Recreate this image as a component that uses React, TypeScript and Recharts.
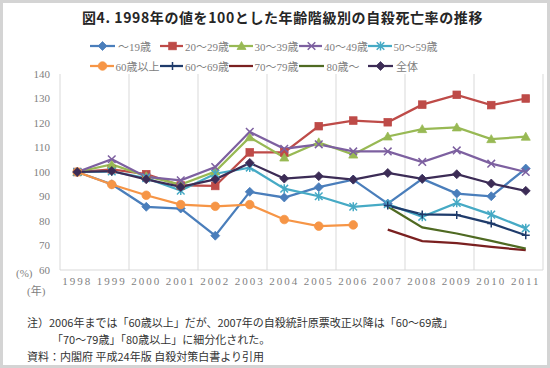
import { LineChart, Line, XAxis, YAxis, CartesianGrid, Legend } from 'recharts'

const years = [1998, 1999, 2000, 2001, 2002, 2003, 2004, 2005, 2006, 2007, 2008, 2009, 2010, 2011]
const yTicks = [60, 70, 80, 90, 100, 110, 120, 130, 140]
const gridTicks = [1997.5, 1998.5, 1999.5, 2000.5, 2001.5, 2002.5, 2003.5, 2004.5, 2005.5, 2006.5, 2007.5, 2008.5, 2009.5, 2010.5, 2011.5]

const under19 = [100, 95, 85.8, 85.1, 74.0, 91.9, 89.6, 93.8, 96.9, 87.1, 97.2, 91.2, 90.1, 101.4]
const age20s = [100, 101.1, 99.1, 94.5, 94.3, 108.0, 108.0, 118.7, 121.0, 120.3, 127.5, 131.5, 127.3, 130.0]
const age30s = [100, 103.1, 98.3, 94.9, 100.2, 114.2, 105.9, 112.1, 107.1, 114.5, 117.5, 118.2, 113.4, 114.4]
const age40s = [100, 105.2, 98.0, 96.6, 102.0, 116.4, 109.5, 111.3, 108.4, 108.4, 104.1, 108.8, 103.4, 100.0]
const age50s = [100, 100.2, 97.5, 92.4, 99.3, 101.8, 93.2, 90.1, 85.8, 86.9, 81.7, 87.4, 82.6, 77.0]
const over60 = [100, 94.9, 90.5, 86.7, 86.0, 86.7, 80.6, 77.9, 78.4, null, null, null, null, null]
const age60s = [null, null, null, null, null, null, null, null, null, 86.3, 82.7, 82.5, 79.0, 74.2]
const age70s = [null, null, null, null, null, null, null, null, null, 76.5, 71.8, 71.0, 69.4, 68.1]
const over80 = [null, null, null, null, null, null, null, null, null, 85.9, 77.4, 74.9, 71.9, 68.7]
const total = [100, 100.4, 97.0, 93.9, 97.0, 103.7, 97.3, 98.3, 96.9, 99.6, 97.2, 99.1, 95.3, 92.3]

const series = [
  { key: 'under19', name: '～19歳', color: '#4A7EBB', shape: 'diamond', values: under19 },
  { key: 'age20s', name: '20～29歳', color: '#BE4B48', shape: 'square', values: age20s },
  { key: 'age30s', name: '30～39歳', color: '#98B954', shape: 'triangle', values: age30s },
  { key: 'age40s', name: '40～49歳', color: '#7D60A0', shape: 'cross', values: age40s },
  { key: 'age50s', name: '50～59歳', color: '#46AAC5', shape: 'star', values: age50s },
  { key: 'over60', name: '60歳以上', color: '#F69546', shape: 'circle', values: over60 },
  { key: 'age60s', name: '60～69歳', color: '#1F3B6B', shape: 'plus', values: age60s },
  { key: 'age70s', name: '70～79歳', color: '#7A2020', shape: 'none', values: age70s },
  { key: 'over80', name: '80歳～', color: '#4F6A22', shape: 'none', values: over80 },
  { key: 'total', name: '全体', color: '#3C2C56', shape: 'diamond', values: total },
]

const data = years.map((year, i) => {
  const row: Record<string, number | null> = { year }
  series.forEach((s) => {
    row[s.key] = s.values[i]
  })
  return row
})

const serif = '"Liberation Serif", "Noto Sans CJK JP", serif'
const gothic = '"Noto Sans CJK JP", sans-serif'

function Marker({ cx, cy, shape, color }: { cx: number; cy: number; shape: string; color: string }) {
  if (cx == null || cy == null || isNaN(cx) || isNaN(cy)) return <g />
  switch (shape) {
    case 'diamond':
      return <path d={`M${cx},${cy - 4.5}L${cx + 4.5},${cy}L${cx},${cy + 4.5}L${cx - 4.5},${cy}Z`} fill={color} stroke={color} strokeWidth={0.75} />
    case 'square':
      return <rect x={cx - 3.8} y={cy - 3.8} width={7.6} height={7.6} fill={color} stroke={color} strokeWidth={0.75} />
    case 'triangle':
      return <path d={`M${cx},${cy - 4.5}L${cx + 4.5},${cy + 3.5}L${cx - 4.5},${cy + 3.5}Z`} fill={color} stroke={color} strokeWidth={0.75} />
    case 'cross':
      return <path d={`M${cx - 3.8},${cy - 3.8}L${cx + 3.8},${cy + 3.8}M${cx + 3.8},${cy - 3.8}L${cx - 3.8},${cy + 3.8}`} stroke={color} strokeWidth={1.5} fill="none" />
    case 'star':
      return <path d={`M${cx - 3.8},${cy - 3.8}L${cx + 3.8},${cy + 3.8}M${cx + 3.8},${cy - 3.8}L${cx - 3.8},${cy + 3.8}M${cx},${cy - 4.5}L${cx},${cy + 4.5}`} stroke={color} strokeWidth={1.5} fill="none" />
    case 'circle':
      return <circle cx={cx} cy={cy} r={4.3} fill={color} stroke={color} strokeWidth={0.75} />
    case 'plus':
      return <path d={`M${cx - 4},${cy}L${cx + 4},${cy}M${cx},${cy - 4}L${cx},${cy + 4}`} stroke={color} strokeWidth={1.5} fill="none" />
    default:
      return <g />
  }
}

function LegendBox() {
  return (
    <div
      style={{
        display: 'grid',
        gridTemplateColumns: 'repeat(5, 69.5px)',
        gridAutoRows: '20px',
        paddingLeft: 90,
        paddingTop: 36,
        fontFamily: serif,
        fontSize: 11,
        color: '#808080',
      }}
    >
      {series.map((s) => (
        <div key={s.key} style={{ display: 'flex', alignItems: 'center', whiteSpace: 'nowrap' }}>
          <svg width={26} height={12} style={{ marginRight: 2 }}>
            <line x1={0} y1={6} x2={25} y2={6} stroke={s.color} strokeWidth={2.25} />
            <Marker cx={12.5} cy={6} shape={s.shape} color={s.color} />
          </svg>
          <span>{s.name}</span>
        </div>
      ))}
    </div>
  )
}

export default function App() {
  return (
    <div style={{ position: 'relative', width: 550, height: 368, background: '#fff', overflow: 'hidden' }}>
      <style>{'body{margin:0}'}</style>
      <div
        style={{
          position: 'absolute',
          left: 0,
          top: 0,
          width: 550,
          height: 368,
          boxSizing: 'border-box',
          border: '3px solid #d4d4d4',
        }}
      />
      <div
        style={{
          position: 'absolute',
          left: 0,
          width: 565,
          top: 7,
          textAlign: 'center',
          fontFamily: gothic,
          fontWeight: 700,
          fontSize: 14,
          letterSpacing: 0.6,
          color: '#262626',
        }}
      >
        図4. 1998年の値を100とした年齢階級別の自殺死亡率の推移
      </div>
      <div style={{ position: 'absolute', left: 0, top: 0 }}>
        <LineChart width={550} height={368} data={data} margin={{ top: 74, right: 7, bottom: 68, left: 0 }}>
          <CartesianGrid xAxisId="grid" horizontal={false} stroke="#d9d9d9" />
          <XAxis
            xAxisId="grid"
            dataKey="year"
            type="number"
            domain={[1997.5, 2011.5]}
            ticks={gridTicks}
            hide
          />
          <XAxis
            dataKey="year"
            type="number"
            domain={[1997.5, 2011.5]}
            ticks={years}
            interval={0}
            height={30}
            tickLine={false}
            axisLine={{ stroke: '#d9d9d9' }}
            tickMargin={1}
            tick={{ fill: '#7f7f7f', fontSize: 11, fontFamily: serif, letterSpacing: 2 }}
          />
          <YAxis
            domain={[60, 140]}
            ticks={yTicks}
            width={60}
            axisLine={false}
            tickLine={false}
            tickMargin={4}
            tick={{ fill: '#7f7f7f', fontSize: 11, fontFamily: serif }}
          />
          <Legend verticalAlign="middle" wrapperStyle={{ left: 0, top: 0, width: 550 }} content={() => <LegendBox />} />
          {series.map((s) => (
            <Line
              key={s.key}
              dataKey={s.key}
              name={s.name}
              stroke={s.color}
              strokeWidth={2.25}
              isAnimationActive={false}
              connectNulls={false}
              dot={(p: any) => <Marker key={`${s.key}-${p.index}`} cx={p.cx} cy={p.cy} shape={s.shape} color={s.color} />}
              activeDot={false}
            />
          ))}
        </LineChart>
      </div>
      <div style={{ position: 'absolute', left: 16, top: 267, fontFamily: serif, fontSize: 11, color: '#7f7f7f' }}>(%)</div>
      <div style={{ position: 'absolute', left: 27, top: 282, fontFamily: serif, fontSize: 11, color: '#7f7f7f' }}>(年)</div>
      <div
        style={{
          position: 'absolute',
          left: 27,
          top: 314,
          fontFamily: gothic,
          fontSize: 11,
          lineHeight: '17px',
          color: '#333',
          whiteSpace: 'nowrap',
        }}
      >
        <div>注）2006年までは「60歳以上」だが、2007年の自殺統計原票改正以降は「60～69歳」</div>
        <div style={{ paddingLeft: 25 }}>「70～79歳」「80歳以上」に細分化された。</div>
        <div>資料：内閣府 平成24年版 自殺対策白書より引用</div>
      </div>
    </div>
  )
}
